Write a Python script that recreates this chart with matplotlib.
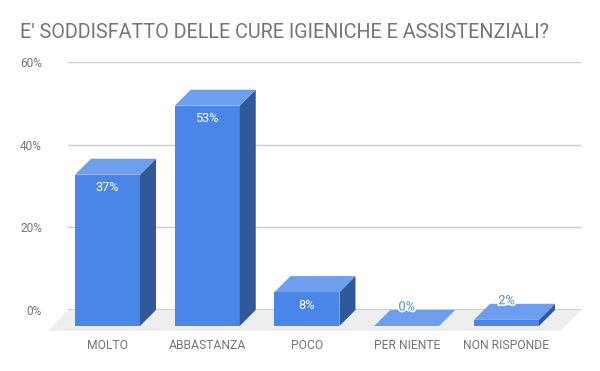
"""Bar chart with fake 3D boxes, percentages per answer."""

import matplotlib
matplotlib.use("Agg")
import matplotlib.pyplot as plt
import matplotlib.patheffects as pe
from matplotlib.patches import Polygon

plt.rcParams["font.family"] = ["Roboto", "DejaVu Sans"]

TITLE = "E' SODDISFATTO DELLE CURE IGIENICHE E ASSISTENZIALI?"
categories = ["MOLTO", "ABBASTANZA", "POCO", "PER NIENTE", "NON RISPONDE"]
values = [36.6, 53.3, 8.2, 0.0, 1.5]
labels = ["37%", "53%", "8%", "0%", "2%"]
yticks = [0, 20, 40, 60]

FRONT = "#4a86e8"
TOP = "#6e9eee"
SIDE = "#2f5998"
FLOOR = "#eeeeee"
GREY = "#757575"

W, H = 600, 371
PX_X = 99.75  # pixels per category
PX_Y = 248 / 60  # pixels per percent
DX = 16 / PX_X
DY = 16 / PX_Y
BAR = 65 / PX_X

fig = plt.figure(figsize=(W / 100, H / 100), dpi=100)
ax = fig.add_axes([68 / W, 1 - 310 / H, 513 / W, 248 / H])
ax.set_xlim(-0.396, 4.747)
ax.set_ylim(0, 60)
for spine in ax.spines.values():
    spine.set_visible(False)
ax.grid(axis="y", color="#cccccc", lw=1)
ax.set_axisbelow(True)
ax.set_yticks(yticks)
ax.set_yticklabels([f"{t}%" for t in yticks], color=GREY, fontsize=8.6)
ax.set_xticks(range(len(categories)))
ax.set_xticklabels(categories, color=GREY, fontsize=8.7)
ax.tick_params(axis="both", length=0)
ax.tick_params(axis="y", pad=26 / 1.39)
ax.tick_params(axis="x", pad=21)

# floor under the bars, then the dark zero line
x0, x1 = ax.get_xlim()
floor = Polygon([(x0, 0), (x1, 0), (x1 - 21 / PX_X, -DY - 5 / PX_Y), (x0 - 20 / PX_X, -DY - 5 / PX_Y)],
                closed=True, fc=FLOOR, ec="none", clip_on=False, zorder=1)
ax.add_patch(floor)
ax.plot([x0, x1], [0, 0], color="#333333", lw=1, zorder=2)

for i, (v, lab) in enumerate(zip(values, labels)):
    left = i - BAR / 2
    right = i + BAR / 2
    base = -DY
    top = base + v
    if v > 0:
        ax.add_patch(Polygon([(left, base), (right, base), (right, top), (left, top)],
                             fc=FRONT, ec="none", clip_on=False, zorder=3))
        ax.add_patch(Polygon([(right, base), (right + DX, 0), (right + DX, top + DY), (right, top)],
                             fc=SIDE, ec="none", clip_on=False, zorder=3))
    ax.add_patch(Polygon([(left, top), (right, top), (right + DX, top + DY), (left + DX, top + DY)],
                         fc=TOP, ec="none", clip_on=False, zorder=3))
    if v > 5:
        ax.text(i, top - 13 / PX_Y, lab, color="white", fontsize=9.2,
                ha="center", va="center", zorder=4)
    else:
        ax.text(i, top + DY + 3 / PX_Y, lab, color=FRONT, fontsize=9.2,
                ha="center", va="center", zorder=4,
                path_effects=[pe.withStroke(linewidth=2.5, foreground="white")])

fig.text(20 / W, 1 - 33 / H, TITLE, color=GREY, fontsize=14.2, ha="left", va="center")

fig.savefig("out.png", dpi=100)
